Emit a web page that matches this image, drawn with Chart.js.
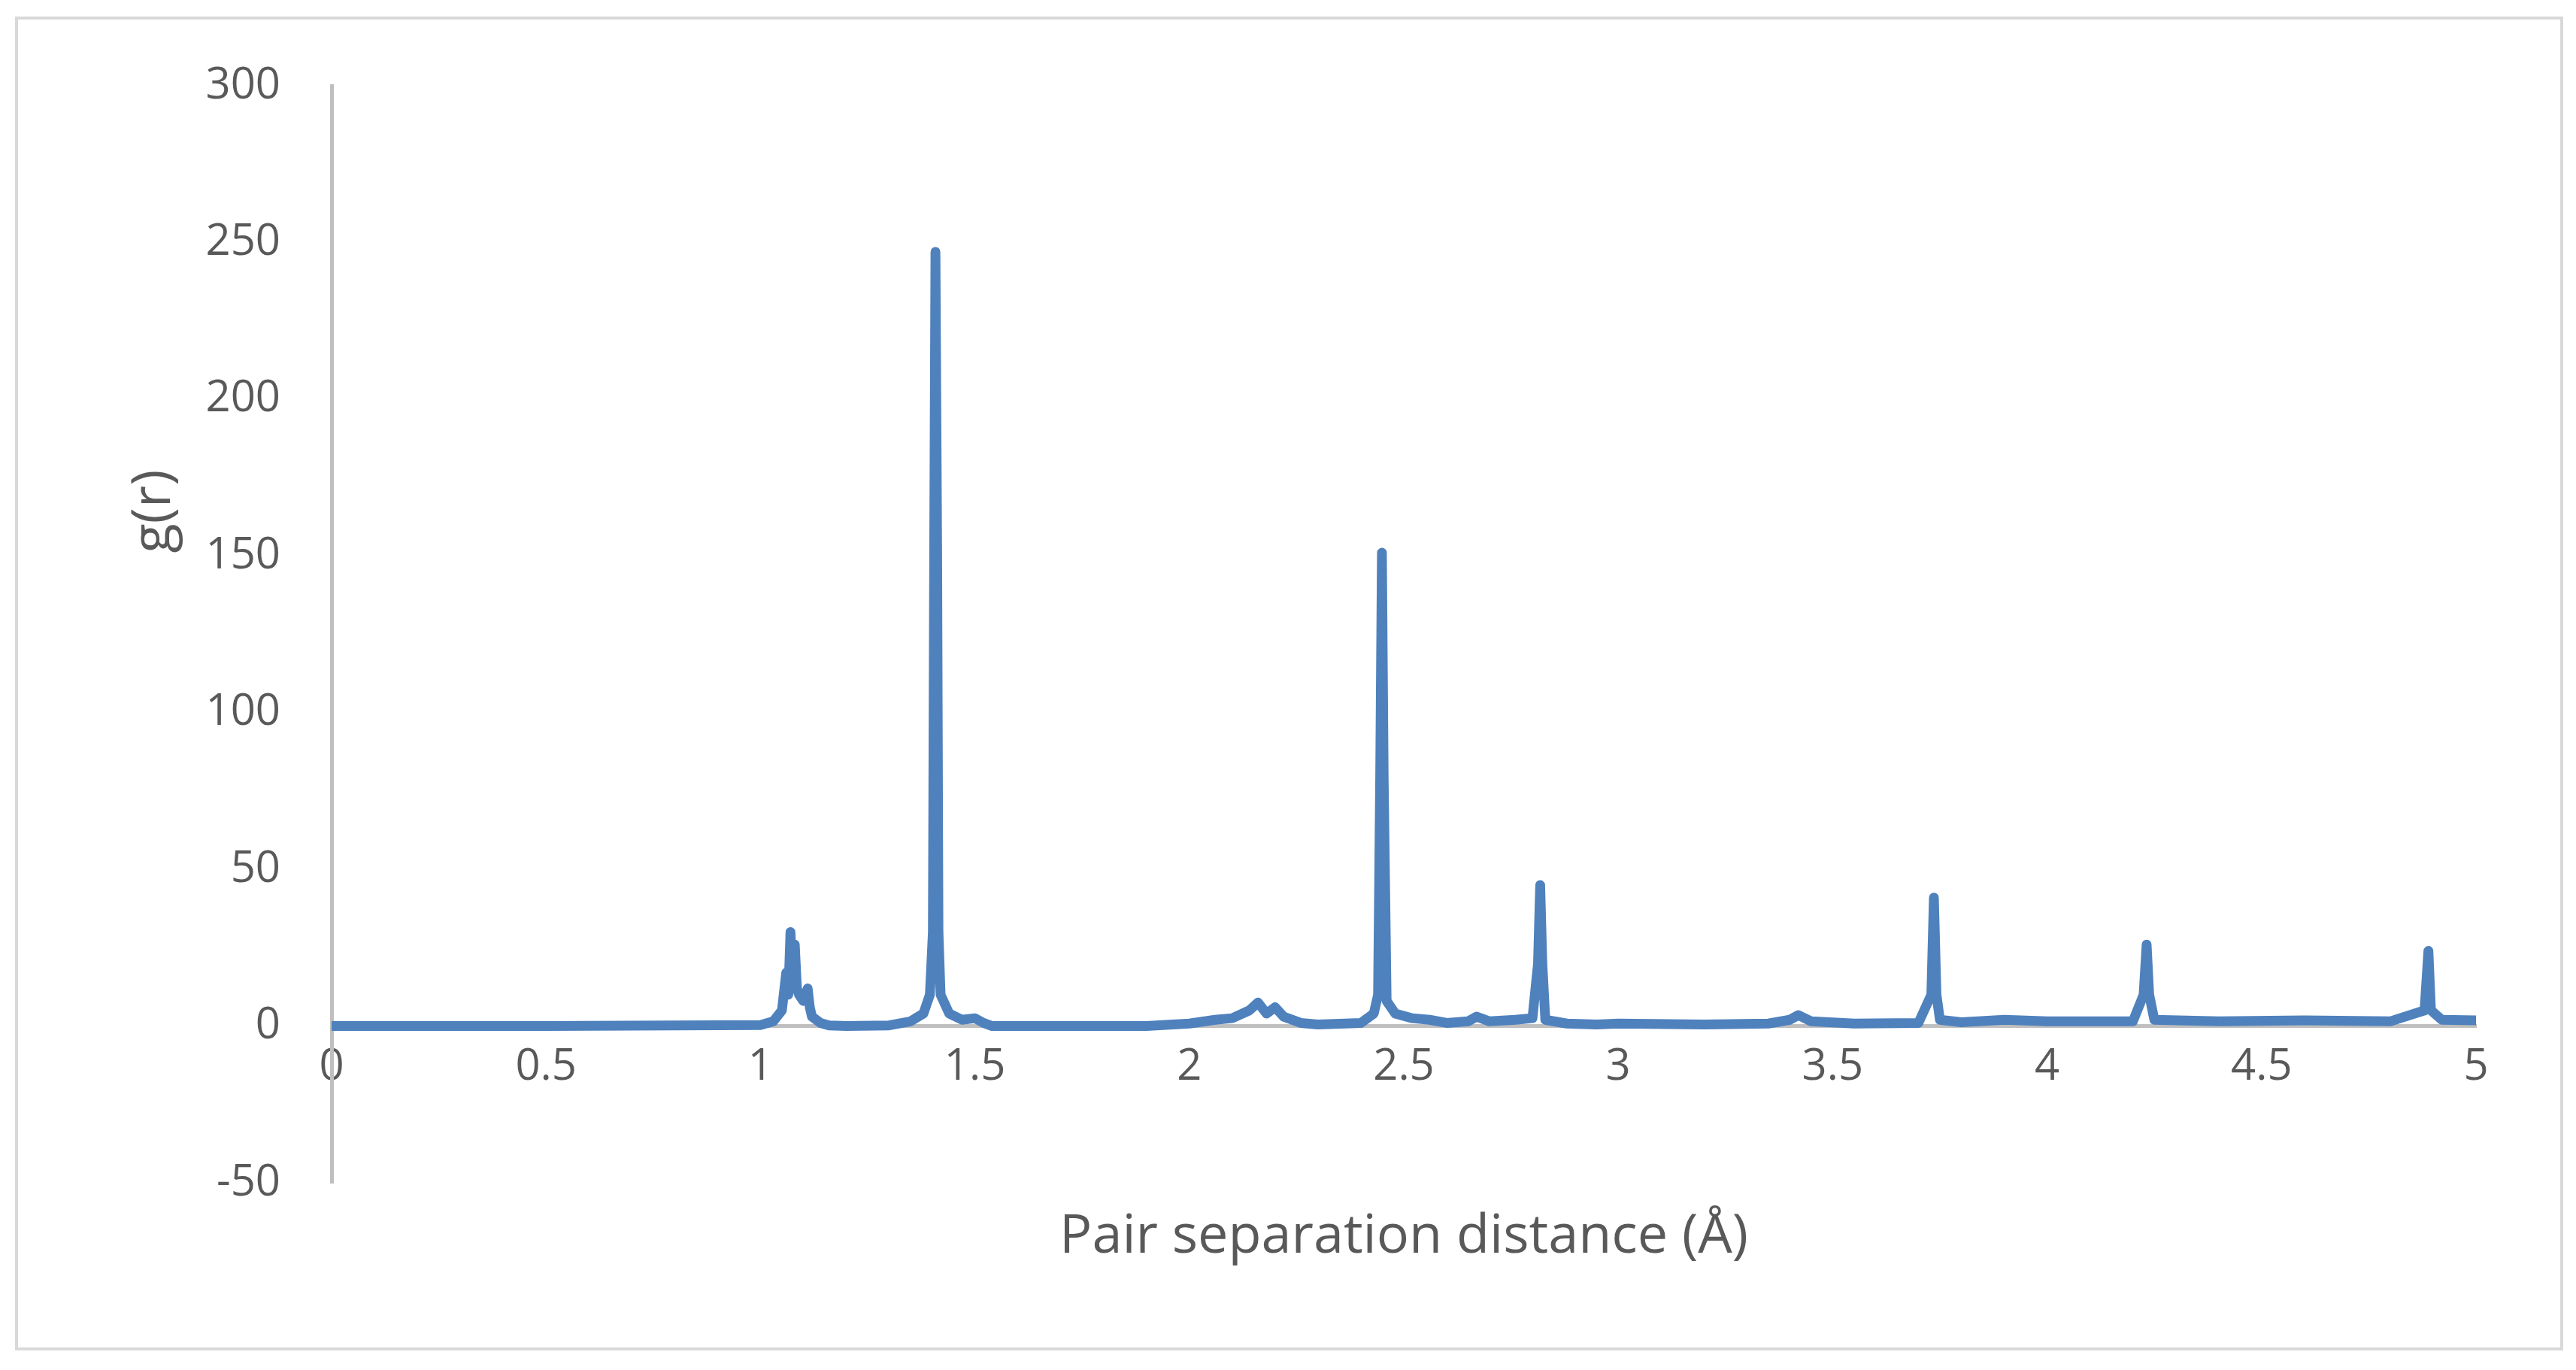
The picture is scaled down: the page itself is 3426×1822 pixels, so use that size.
<!DOCTYPE html>
<html>
<head>
<meta charset="utf-8">
<script src="https://cdn.jsdelivr.net/npm/chart.js@4"></script>
<style>
  html, body { margin: 0; padding: 0; background: #fff; }
  #frame { position: absolute; left: 20px; top: 22px; width: 3381px; height: 1766px; border: 4px solid #d9d9d9; }
  #wrap { position: absolute; left: 0; top: 0; width: 3426px; height: 1822px; }
</style>
</head>
<body>
<div id="frame"></div>
<div id="wrap"><canvas id="gr-chart"></canvas></div>
<script>
// Pair separation distance (Å)
const rValues = [
    0, 0.5, 1.0, 1.03, 1.05, 1.06, 1.065, 1.07, 1.075, 1.08, 1.085, 1.09, 1.1, 1.11, 1.115, 1.12, 1.14, 1.16, 1.2,
    1.3, 1.35, 1.38, 1.395, 1.402, 1.405, 1.408, 1.412, 1.415, 1.42, 1.44, 1.47, 1.5, 1.52, 1.54,
    1.9, 2.0, 2.06, 2.1, 2.14, 2.16, 2.18, 2.2, 2.22, 2.26, 2.3, 2.4, 2.43, 2.44, 2.445, 2.449, 2.453, 2.46,
    2.48, 2.52, 2.56, 2.6, 2.65, 2.67, 2.7, 2.76, 2.8, 2.813, 2.818, 2.823, 2.83, 2.88, 2.95, 3.0, 3.2,
    3.35, 3.4, 3.42, 3.45, 3.55, 3.7, 3.73, 3.736, 3.742, 3.75, 3.8, 3.9, 4.0, 4.1, 4.2, 4.225, 4.232,
    4.238, 4.25, 4.4, 4.6, 4.8, 4.88, 4.889, 4.895, 4.92, 5.0
];
// g(r)
const gValues = [
    0, 0, 0.3, 1.5, 5, 17, 10, 30, 12, 26, 12, 10, 8, 12, 6, 3, 1, 0.2, 0,
    0.2, 1.5, 4, 10, 30, 150, 247, 150, 30, 10, 4, 2, 2.5, 1, 0,
    0, 0.8, 2, 2.5, 5, 7.5, 4, 6, 3, 1, 0.5, 1, 4, 10, 80, 151, 80, 8,
    4, 2.5, 2, 1, 1.5, 3, 1.5, 2, 2.5, 20, 45, 20, 2, 0.8, 0.5, 0.8, 0.5,
    0.8, 2, 3.5, 1.5, 0.8, 1, 10, 41, 10, 2, 1.2, 2, 1.5, 1.5, 1.5, 10, 26,
    10, 2, 1.5, 1.8, 1.5, 5, 24, 5, 2, 1.8
];
const xTicks = [0, 0.5, 1, 1.5, 2, 2.5, 3, 3.5, 4, 4.5, 5];
const yTicks = [-50, 0, 50, 100, 150, 200, 250, 300];

const lineColor = '#4f81bd';
const textColor = '#595959';
const axisColor = '#bfbfbf';
const fontFamily = '"Open Sans", "Liberation Sans", sans-serif';

// Axis titles placed like the original spreadsheet chart
const axisTitles = {
    id: 'axisTitles',
    afterDraw(chart) {
        const ctx = chart.ctx;
        ctx.save();
        ctx.fillStyle = textColor;
        ctx.font = `72px ${fontFamily}`;
        ctx.textAlign = 'center';
        ctx.textBaseline = 'middle';
        ctx.fillText('Pair separation distance (Å)', (chart.chartArea.left + chart.chartArea.right) / 2, 1645);
        ctx.translate(205, 680);
        ctx.rotate(-Math.PI / 2);
        ctx.fillText('g(r)', 0, 0);
        ctx.restore();
    }
};

const ctx = document.getElementById('gr-chart').getContext('2d');
new Chart(ctx, {
    type: 'scatter',
    data: {
        datasets: [{
            data: rValues.map((r, i) => ({ x: r, y: gValues[i] })),
            showLine: true,
            borderColor: lineColor,
            borderWidth: 13,
            borderJoinStyle: 'round',
            borderCapStyle: 'round',
            pointRadius: 0,
            tension: 0,
        }]
    },
    options: {
        responsive: true,
        maintainAspectRatio: false,
        animation: false,
        devicePixelRatio: 1,
        layout: { padding: { left: 0, top: 114, right: 133, bottom: 249 } },
        plugins: { legend: { display: false }, tooltip: { enabled: false } },
        scales: {
            x: {
                type: 'linear',
                min: 0, max: 5,
                position: { y: 0 },
                afterBuildTicks: (axis) => { axis.ticks = xTicks.map(v => ({ value: v })); },
                grid: { display: false },
                border: { color: axisColor, width: 5 },
                ticks: { color: textColor, font: { family: fontFamily, size: 58 }, padding: 12, maxRotation: 0,
                         callback: (v) => String(v) },
            },
            y: {
                min: -50, max: 300,
                afterBuildTicks: (axis) => { axis.ticks = yTicks.map(v => ({ value: v })); },
                afterFit: (axis) => { axis.width = 441; },
                grid: { display: false },
                border: { color: axisColor, width: 5 },
                ticks: { color: textColor, font: { family: fontFamily, size: 58 }, padding: 60,
                         callback: (v) => String(v) },
            }
        }
    },
    plugins: [axisTitles]
});
</script>
</body>
</html>
